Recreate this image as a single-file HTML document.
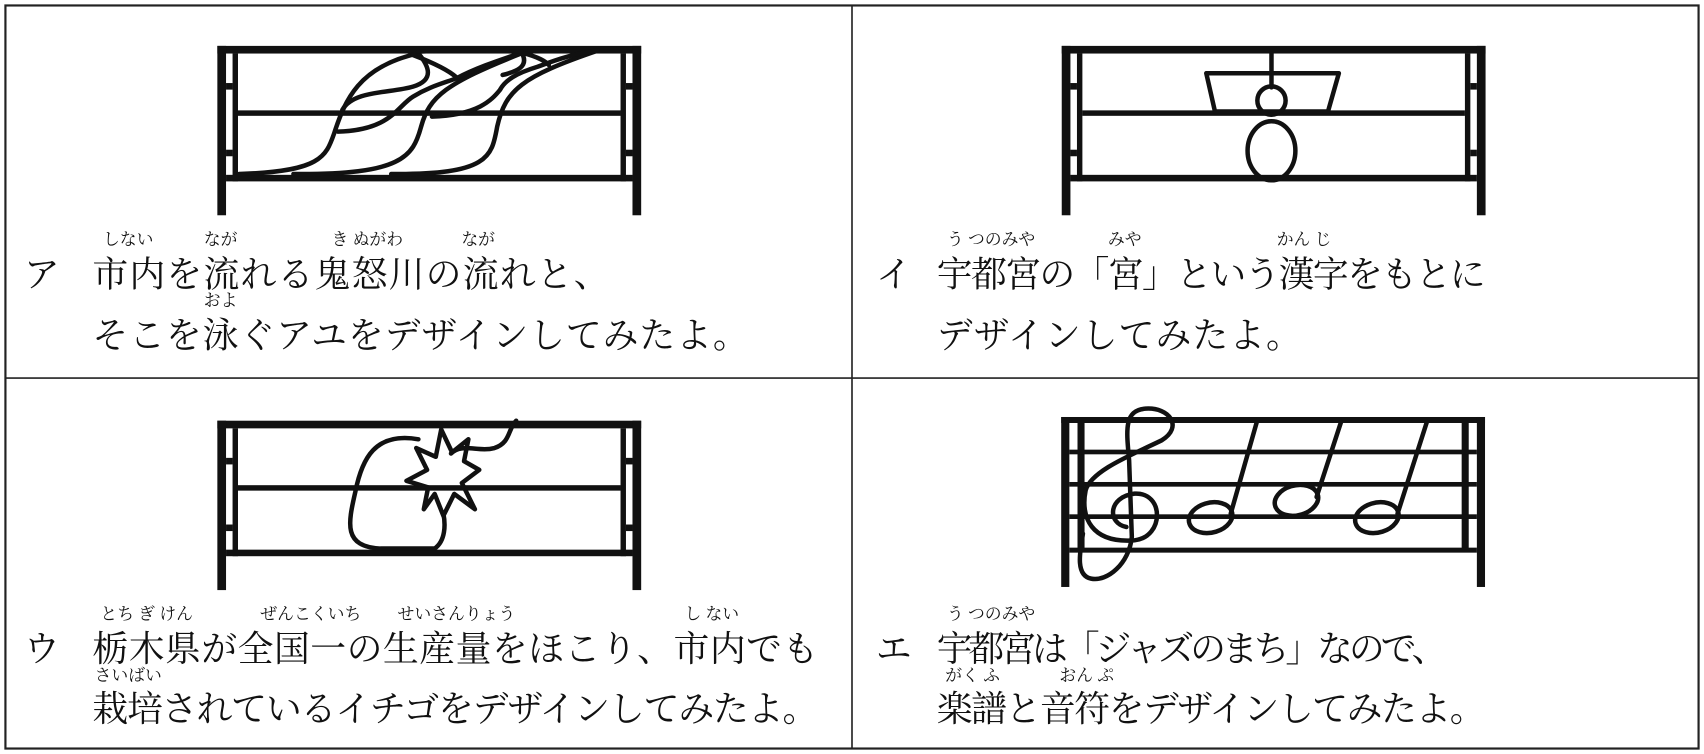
<!DOCTYPE html>
<html><head><meta charset="utf-8"><style>
html,body{margin:0;padding:0;background:#fff;}
svg{display:block;}
text{font-family:"Liberation Serif","Noto Serif CJK SC","Noto Sans CJK JP",serif;fill:#111;}
.r{font-size:15.5px;text-anchor:middle;}
.m{font-size:33px;}
.c{fill:none;stroke:#111;stroke-width:4.5;vector-effect:non-scaling-stroke;stroke-linecap:round;stroke-linejoin:round;}
</style></head><body>
<svg width="1704" height="754" viewBox="0 0 1568 690" preserveAspectRatio="none" xmlns="http://www.w3.org/2000/svg">
<rect x="0" y="0" width="1568" height="690" fill="#fff"/>
<rect x="5" y="5" width="1558" height="680" fill="none" stroke="#222" stroke-width="2"/>
<line x1="784" y1="5" x2="784" y2="685" stroke="#222" stroke-width="1.5"/>
<line x1="5" y1="346" x2="1563" y2="346" stroke="#222" stroke-width="1.5"/>

<defs>
<g id="fence" fill="#111">
<rect x="200" y="42" width="390" height="7"/>
<rect x="200" y="42" width="8" height="155"/>
<rect x="582" y="42" width="8" height="155"/>
<rect x="214" y="49" width="5" height="117"/>
<rect x="571" y="49" width="5" height="117"/>
<rect x="208" y="76" width="6" height="6"/>
<rect x="208" y="137" width="6" height="6"/>
<rect x="576" y="76" width="6" height="6"/>
<rect x="576" y="137" width="6" height="6"/>
<rect x="219" y="101" width="352" height="5"/>
<rect x="208" y="160" width="374" height="6"/>
</g>
</defs>

<!-- Panel A -->
<use href="#fence"/>
<g transform="scale(0.5,0.305)">
<path class="c" d="M440,522 C590,515 600,470 615,400 C635,300 660,200 770,160"/>
<path class="c" d="M540,522 C740,525 760,470 775,380 C790,290 820,250 960,160"/>
<path class="c" d="M720,522 C900,525 905,470 915,380 C930,270 960,230 1100,152"/>
<path class="c" d="M622,395 C720,390 730,320 760,290 C790,260 815,250 840,235 C880,200 930,175 960,158"/>
<path class="c" d="M795,350 C880,345 905,300 920,270 C930,240 950,220 990,200 C1030,175 1060,160 1100,152"/>
<path class="c" d="M760,165 C800,190 825,210 840,232"/>
<path class="c" d="M960,158 C975,200 950,215 925,225"/>
<path class="c" d="M960,158 C990,170 1005,185 1010,195"/>
<path class="c" d="M770,160 C790,200 800,240 760,260 C720,280 650,270 630,330"/>
<path class="c" d="M770,155 C820,150 860,150 960,155"/>
</g>
<text x="22" y="262" class="m">ア</text>
<text x="85" y="262" class="m" textLength="476" lengthAdjust="spacing">市内を流れる鬼怒川の流れと、</text>
<text x="85" y="318" class="m" textLength="604" lengthAdjust="spacing">そこを泳ぐアユをデザインしてみたよ。</text>
<text x="118" y="224" class="r">しない</text>
<text x="203" y="224" class="r">なが</text>
<text x="338" y="224" class="r">き ぬがわ</text>
<text x="440" y="224" class="r">なが</text>
<text x="203" y="280" class="r">およ</text>

<!-- Panel I -->
<use href="#fence" x="777"/>
<g>
<line class="c" x1="1170" y1="49" x2="1170" y2="80"/>
<path class="c" d="M1110,67 L1232,67 L1222,102 L1118,102 Z"/>
<circle class="c" cx="1170" cy="92" r="13"/>
<ellipse class="c" cx="1170" cy="138" rx="22" ry="27"/>
</g>
<text x="806" y="262" class="m">イ</text>
<text x="862" y="262" class="m" textLength="505" lengthAdjust="spacing">宇都宮の「宮」という漢字をもとに</text>
<text x="862" y="318" class="m" textLength="336" lengthAdjust="spacing">デザインしてみたよ。</text>
<text x="912" y="224" class="r">う つのみや</text>
<text x="1035" y="224" class="r">みや</text>
<text x="1200" y="224" class="r">かん じ</text>

<!-- Panel U -->
<use href="#fence" y="343"/>
<g>
<path class="c" fill="#fff" d="M385,402 C345,395 333,420 327,450 C320,480 316,500 350,502 L400,502 C410,495 410,480 408,470"/>
<path class="c" fill="#fff" d="M408,472 L400,452 L390,466 L394,446 L374,440 L393,430 L383,410 L401,418 L406,393 L416,414 L431,402 L427,422 L441,430 L425,442 L437,466 L418,452 Z"/>
<path class="c" d="M415,415 C425,405 440,414 455,410 C470,405 467,393 475,385"/>
</g>
<text x="22" y="605" class="m">ウ</text>
<text x="85" y="605" class="m" textLength="668" lengthAdjust="spacing">栃木県が全国一の生産量をほこり、市内でも</text>
<text x="85" y="660" class="m" textLength="668" lengthAdjust="spacing">栽培されているイチゴをデザインしてみたよ。</text>
<text x="135" y="567" class="r">とち ぎ けん</text>
<text x="286" y="567" class="r">ぜんこくいち</text>
<text x="420" y="567" class="r">せいさんりょう</text>
<text x="655" y="567" class="r">し ない</text>
<text x="118" y="623" class="r">さいばい</text>

<!-- Panel E -->
<g transform="translate(784,345) scale(0.5,0.305)">
<g fill="#111">
<rect x="385" y="120" width="780" height="18"/>
<rect x="385" y="120" width="15" height="510"/>
<rect x="1150" y="120" width="15" height="510"/>
<rect x="415" y="138" width="13" height="385"/>
<rect x="1122" y="138" width="13" height="385"/>
<rect x="400" y="218" width="750" height="14"/>
<rect x="400" y="315" width="750" height="14"/>
<rect x="400" y="412" width="750" height="14"/>
<rect x="400" y="512" width="750" height="15"/>
</g>
<path class="c" d="M505,450 C470,440 470,360 520,350 C575,345 575,480 520,490 C440,500 420,420 430,340 C440,280 520,230 570,190 C610,150 585,90 540,95 C500,100 505,160 510,250 L515,480 C510,560 470,615 440,605 C410,595 420,520 425,470"/>
<ellipse class="c" cx="660" cy="422" rx="38" ry="48" transform="rotate(25 660 422)"/>
<ellipse class="c" cx="818" cy="370" rx="38" ry="48" transform="rotate(25 818 370)"/>
<ellipse class="c" cx="966" cy="422" rx="38" ry="48" transform="rotate(25 966 422)"/>
<path class="c" d="M697,410 L745,135"/>
<path class="c" d="M855,360 L900,135"/>
<path class="c" d="M1004,410 L1058,135"/>
</g>
<text x="806" y="605" class="m">エ</text>
<text x="862" y="605" class="m" textLength="470" lengthAdjust="spacing">宇都宮は「ジャズのまち」なので、</text>
<text x="862" y="660" class="m" textLength="505" lengthAdjust="spacing">楽譜と音符をデザインしてみたよ。</text>
<text x="912" y="567" class="r">う つのみや</text>
<text x="895" y="623" class="r">がく ふ</text>
<text x="1000" y="623" class="r">おん ぷ</text>
</svg>
</body></html>
